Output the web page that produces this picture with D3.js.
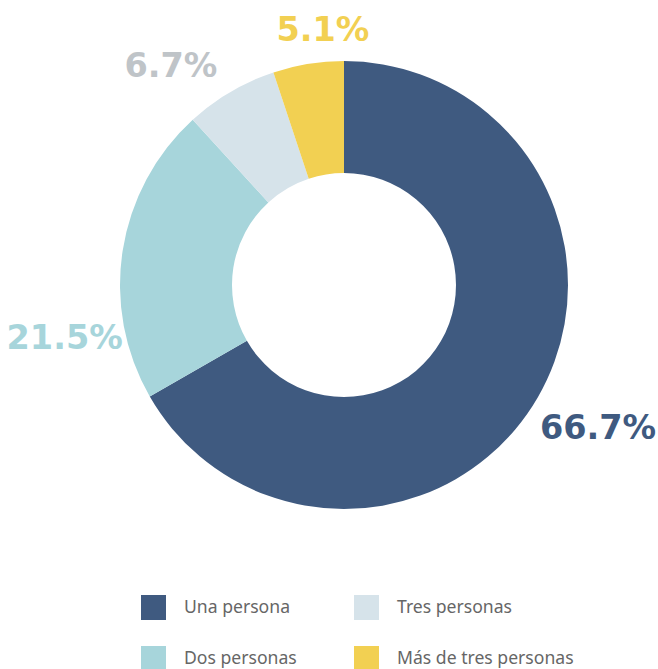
<!DOCTYPE html>
<html>
<head>
<meta charset="utf-8">
<script src="https://cdn.jsdelivr.net/npm/d3@7/dist/d3.min.js"></script>
<style>
  html, body { margin: 0; padding: 0; background: #fff; }
  svg { display: block; }
</style>
</head>
<body>
<svg id="chart" width="658" height="669"></svg>
<script>
// ---- data ----
const categories = ["Una persona", "Dos personas", "Tres personas", "Más de tres personas"];
const values = [66.7, 21.5, 6.7, 5.1];
const labels = ["66.7%", "21.5%", "6.7%", "5.1%"];
const sliceColors = ["#3F5A80", "#A7D5DB", "#D6E3EA", "#F2D052"];
const labelColors = ["#3F5A80", "#A7D5DB", "#BFC4C8", "#F2D052"];

// ---- layout ----
const W = 658, H = 669;
const cx = 344, cy = 285, outerR = 224, innerR = 112;
// label placement: [angle in degrees (clockwise from top), radius]
const labelPolar = [[119.2, 291], [259.6, 284], [321.8, 280], [355.3, 257]];

const svg = d3.select("#chart");
const g = svg.append("g").attr("transform", `translate(${cx},${cy})`);

const pie = d3.pie().sort(null).value(d => d);
const arcs = pie(values);
const arc = d3.arc().innerRadius(innerR).outerRadius(outerR);

g.selectAll("path.slice")
  .data(arcs)
  .join("path")
  .attr("class", "slice")
  .attr("d", arc)
  .attr("fill", (d, i) => sliceColors[i]);

g.selectAll("text.lbl")
  .data(arcs)
  .join("text")
  .attr("class", "lbl")
  .attr("x", (d, i) => labelPolar[i][1] * Math.sin(labelPolar[i][0] * Math.PI / 180))
  .attr("y", (d, i) => -labelPolar[i][1] * Math.cos(labelPolar[i][0] * Math.PI / 180))
  .attr("dy", "0.37em")
  .attr("text-anchor", "middle")
  .attr("font-family", "'DejaVu Sans', sans-serif")
  .attr("font-weight", "bold")
  .attr("font-size", 33.5)
  .attr("fill", (d, i) => labelColors[i])
  .text((d, i) => labels[i]);

// ---- legend ----
const legendX = [141, 354];
const legendY = [595, 646];
const legend = svg.append("g");
const items = legend.selectAll("g.item")
  .data(categories)
  .join("g")
  .attr("class", "item")
  .attr("transform", (d, i) => `translate(${legendX[i < 2 ? 0 : 1]},${legendY[i % 2]})`);
items.append("rect")
  .attr("width", 25).attr("height", 25)
  .attr("fill", (d, i) => sliceColors[i]);
items.append("text")
  .attr("x", 43).attr("y", 18)
  .attr("font-family", "'Noto Sans', sans-serif")
  .attr("font-size", 17.6)
  .attr("fill", "#666")
  .text(d => d);
</script>
</body>
</html>
